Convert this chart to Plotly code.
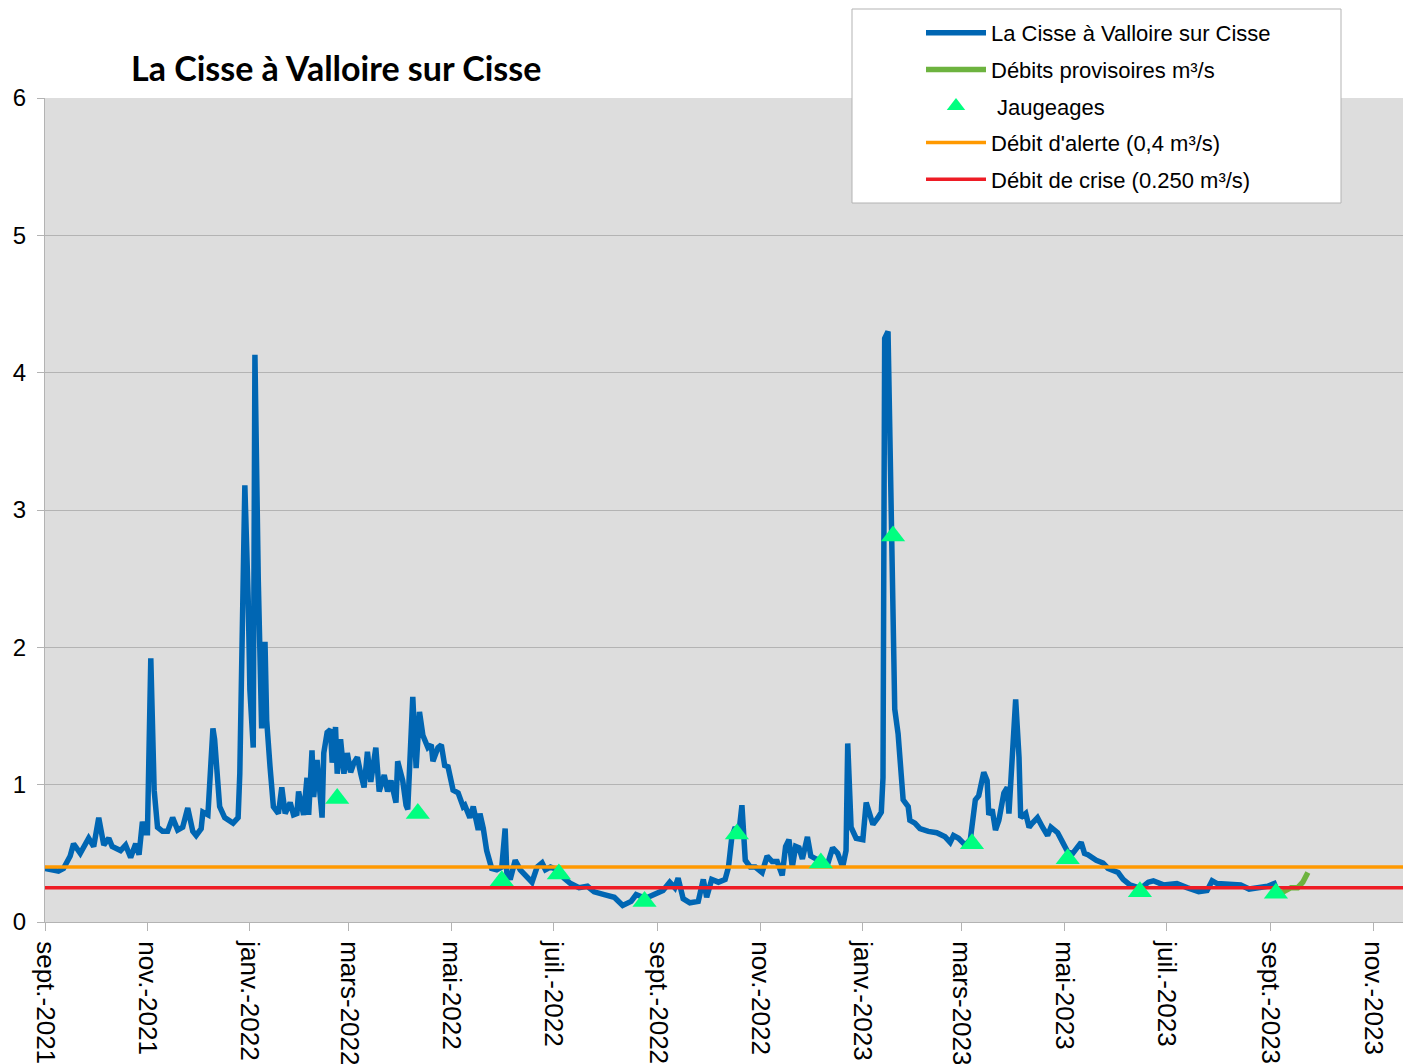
import pandas as pd
import plotly.graph_objects as go

# ---- data ----
START = "2021-09-01"
# days since 1 Sept 2021 / daily flow m3/s (validated series)
day_main = [0, 4, 8, 11, 13, 15, 17, 21, 26, 29, 32, 35, 38, 40, 45, 48, 51, 54, 56, 58, 60, 61, 63, 65, 67,
            70, 73, 76, 79, 82, 85, 88, 90, 93, 94, 97, 100, 101, 104, 107, 112, 115, 116, 118, 119, 121,
            122, 124, 125, 127, 129, 131, 132, 134, 136, 139, 141, 143, 146, 148, 150, 151, 154, 156, 157,
            159, 160, 162, 165, 166, 168, 170, 171, 173, 174, 176, 178, 180, 182, 184, 186, 188, 190, 192,
            194, 197, 199, 202, 204, 206, 209, 210, 213, 215, 216, 219, 221, 223, 225, 228, 230, 231, 234,
            236, 238, 240, 243, 246, 249, 250, 253, 255, 258, 259, 261, 263, 266, 269, 272, 274, 275, 277,
            280, 283, 287, 290, 293, 296, 298, 301, 305, 309, 313, 318, 323, 327, 333, 339, 344, 349, 352,
            356, 359, 364, 368, 372, 375, 377, 380, 384, 389, 392, 394, 397, 401, 405, 407, 409, 411, 413,
            415, 417, 420, 423, 427, 430, 433, 436, 439, 441, 443, 445, 447, 449, 451, 454, 456, 459, 462,
            466, 469, 472, 475, 477, 478, 480, 483, 487, 489, 490, 493, 496, 498, 499, 500, 502, 505, 506,
            508, 509, 511, 514, 515, 518, 521, 526, 531, 536, 539, 541, 544, 548, 551, 554, 556, 559, 561,
            562, 564, 566, 568, 571, 573, 574, 576, 578, 580, 581, 584, 586, 588, 591, 594, 597, 599, 603,
            606, 609, 612, 617, 619, 621, 626, 630, 633, 639, 642, 646, 651, 654, 657, 660, 666, 674, 680,
            687, 692, 695, 698, 704, 708, 712, 717, 724, 728, 732, 733]
flow_main = [0.39, 0.38, 0.37, 0.39, 0.44, 0.48, 0.57, 0.50, 0.61, 0.55, 0.76, 0.56, 0.61, 0.55, 0.52, 0.56,
             0.47, 0.57, 0.49, 0.73, 0.65, 0.65, 1.92, 0.96, 0.69, 0.66, 0.66, 0.76, 0.67, 0.69, 0.83, 0.66,
             0.63, 0.68, 0.80, 0.78, 1.41, 1.33, 0.84, 0.76, 0.72, 0.76, 1.08, 2.85, 3.18, 2.35, 1.69, 1.27,
             4.13, 2.49, 1.41, 2.04, 1.47, 1.13, 0.84, 0.79, 0.98, 0.79, 0.87, 0.78, 0.79, 0.95, 0.78, 1.05,
             0.78, 1.25, 0.91, 1.18, 0.76, 1.23, 1.38, 1.40, 1.16, 1.42, 1.08, 1.33, 1.08, 1.23, 1.09, 1.16,
             1.20, 1.08, 0.98, 1.24, 1.02, 1.27, 0.95, 1.07, 0.95, 1.03, 0.87, 1.17, 1.03, 0.85, 0.82, 1.64,
             1.12, 1.53, 1.36, 1.27, 1.29, 1.17, 1.27, 1.29, 1.14, 1.13, 0.96, 0.94, 0.84, 0.85, 0.76, 0.84,
             0.67, 0.79, 0.68, 0.52, 0.39, 0.38, 0.40, 0.68, 0.36, 0.31, 0.45, 0.38, 0.33, 0.29, 0.40, 0.43,
             0.38, 0.40, 0.38, 0.32, 0.28, 0.25, 0.26, 0.22, 0.20, 0.18, 0.12, 0.15, 0.20, 0.18, 0.18, 0.21,
             0.23, 0.29, 0.25, 0.32, 0.17, 0.14, 0.15, 0.31, 0.18, 0.31, 0.29, 0.31, 0.40, 0.62, 0.69, 0.63,
             0.85, 0.45, 0.40, 0.40, 0.36, 0.48, 0.44, 0.44, 0.34, 0.55, 0.60, 0.40, 0.55, 0.54, 0.46, 0.62,
             0.48, 0.46, 0.44, 0.42, 0.54, 0.50, 0.40, 0.52, 1.30, 0.69, 0.61, 0.60, 0.87, 0.83, 0.71, 0.76,
             0.80, 1.05, 4.25, 4.30, 1.90, 1.55, 1.37, 1.15, 0.89, 0.84, 0.74, 0.72, 0.68, 0.66, 0.65, 0.62,
             0.58, 0.63, 0.61, 0.56, 0.60, 0.89, 0.92, 1.09, 1.03, 0.78, 0.82, 0.67, 0.74, 0.94, 0.98, 0.79,
             1.30, 1.62, 1.20, 0.76, 0.79, 0.69, 0.72, 0.76, 0.69, 0.63, 0.69, 0.65, 0.58, 0.51, 0.50, 0.58,
             0.50, 0.49, 0.45, 0.43, 0.39, 0.36, 0.31, 0.27, 0.25, 0.26, 0.29, 0.30, 0.27, 0.28, 0.25, 0.22,
             0.23, 0.30, 0.28, 0.28, 0.27, 0.27, 0.24, 0.25, 0.26, 0.28, 0.25]

# provisional flows (days since 1 Sept 2021)
day_prov = [733, 736, 742, 746, 749, 752]
flow_prov = [0.25, 0.21, 0.25, 0.25, 0.29, 0.36]

# gaugings (jaugeages)
day_jaug = [174, 222, 272, 306, 357, 412, 462, 505, 552, 609, 652, 733]
flow_jaug = [0.90, 0.79, 0.30, 0.35, 0.15, 0.64, 0.43, 2.81, 0.57, 0.46, 0.22, 0.21]

# thresholds
seuil_alerte = 0.4
seuil_crise = 0.25

tick_dates = ["2021-09-01", "2021-11-01", "2022-01-01", "2022-03-01", "2022-05-01", "2022-07-01",
              "2022-09-01", "2022-11-01", "2023-01-01", "2023-03-01", "2023-05-01", "2023-07-01",
              "2023-09-01", "2023-11-01"]
tick_labels = ["sept.-2021", "nov.-2021", "janv.-2022", "mars-2022", "mai-2022", "juil.-2022",
               "sept.-2022", "nov.-2022", "janv.-2023", "mars-2023", "mai-2023", "juil.-2023",
               "sept.-2023", "nov.-2023"]
x_range = ["2021-09-01", "2023-11-23 10:00"]


def to_dates(days):
    return pd.Timestamp(START) + pd.to_timedelta(days, unit="D")


FONT = "Liberation Sans, Arial, sans-serif"

# page body has an 8px margin: figure is sized to fit inside the window
W, H = 1403, 1056
OFF = 8
ML, MT, MR, MB = 45 - OFF, 98 - OFF, 0, OFF + H - 922
PW, PH = W - ML - MR, H - MT - MB


def px_to_paper_x(px):
    return (px - OFF - ML) / PW


def px_to_paper_y(py):
    return (OFF + H - MB - py) / PH


fig = go.Figure()
fig.add_trace(go.Scatter(x=to_dates(day_main), y=flow_main, mode="lines",
                         name="La Cisse à Valloire sur Cisse",
                         line=dict(color="#0066b3", width=5.5), legendrank=1, legendgroup="a"))
fig.add_trace(go.Scatter(x=to_dates(day_prov), y=flow_prov, mode="lines",
                         name="Débits provisoires m³/s",
                         line=dict(color="#6db33f", width=5.5), legendrank=2, legendgroup="b"))
fig.add_trace(go.Scatter(x=x_range, y=[seuil_alerte, seuil_alerte], mode="lines",
                         name="Débit d'alerte (0,4 m³/s)",
                         line=dict(color="#ff9900", width=3.5), legendrank=4, legendgroup="d"))
fig.add_trace(go.Scatter(x=x_range, y=[seuil_crise, seuil_crise], mode="lines",
                         name="Débit de crise (0.250 m³/s)",
                         line=dict(color="#ee1c25", width=3.5), legendrank=5, legendgroup="e"))
fig.add_trace(go.Scatter(x=to_dates(day_jaug), y=flow_jaug, mode="markers",
                         name=" Jaugeages",
                         marker=dict(symbol="triangle-up", size=21, color="#00ff80",
                                     line=dict(width=0)),
                         legendrank=3, legendgroup="c"))

# legend frame (white box with grey border) behind a transparent legend
fig.add_shape(type="rect", xref="paper", yref="paper", layer="above",
              x0=px_to_paper_x(852), x1=px_to_paper_x(1341),
              y0=px_to_paper_y(203), y1=px_to_paper_y(9),
              fillcolor="white", line=dict(color="#b3b3b3", width=1))

fig.update_layout(
    width=W, height=H,
    margin=dict(l=ML, r=MR, t=MT, b=MB, autoexpand=False),
    paper_bgcolor="white",
    plot_bgcolor="#dddddd",
    font=dict(family=FONT, size=24, color="black"),
    title=dict(text="<b>La Cisse à Valloire sur Cisse</b>",
               font=dict(family="Lato, Carlito, sans-serif", size=34, color="black"),
               x=(131 - OFF) / W, xanchor="left", xref="container",
               y=1 - (69 - OFF) / H, yanchor="middle", yref="container"),
    showlegend=True,
    legend=dict(x=px_to_paper_x(921), y=px_to_paper_y(12), xanchor="left", yanchor="top",
                xref="paper", yref="paper",
                bgcolor="rgba(0,0,0,0)", borderwidth=0,
                font=dict(family=FONT, size=22, color="black"),
                tracegroupgap=5, itemwidth=60),
)
fig.update_xaxes(type="date", range=x_range, tickmode="array", tickvals=tick_dates, ticktext=tick_labels,
                 tickangle=90, ticks="outside", ticklen=8, tickcolor="#b3b3b3", showgrid=False,
                 showline=True, linecolor="#b3b3b3", linewidth=1, zeroline=False, ticklabelstandoff=5,
                 tickfont=dict(family=FONT, size=26, color="black"))
fig.update_yaxes(range=[0, 6], tickmode="array", tickvals=[0, 1, 2, 3, 4, 5, 6],
                 ticks="outside", ticklen=7, tickcolor="#b3b3b3", showgrid=True, gridcolor="#b3b3b3",
                 gridwidth=1, showline=True, linecolor="#b3b3b3", linewidth=1, zeroline=False,
                 ticklabelstandoff=6,
                 tickfont=dict(family=FONT, size=24, color="black"))

fig.write_html("out.html")
